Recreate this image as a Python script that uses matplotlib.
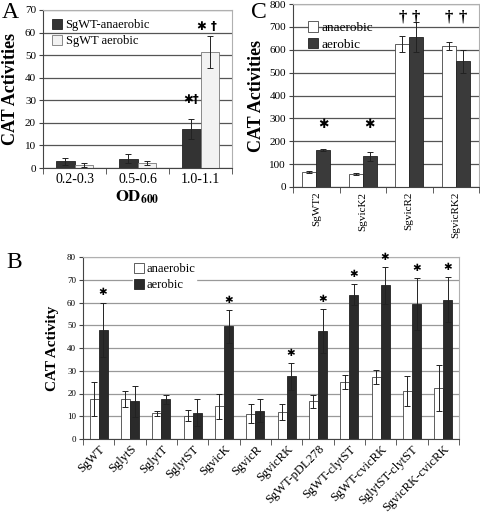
import matplotlib
matplotlib.use("Agg")
import matplotlib.pyplot as plt
import numpy as np

plt.rcParams['font.family'] = ['Liberation Serif', 'DejaVu Serif']
plt.rcParams['mathtext.fontset'] = 'stix'

# ---------------- Data ----------------
# Panel A
a_groups = ["0.2-0.3", "0.5-0.6", "1.0-1.1"]
a_anaer = [3.0, 4.2, 17.2]
a_anaer_err = [1.5, 2.0, 4.4]
a_aer = [1.3, 2.2, 51.3]
a_aer_err = [1.0, 1.0, 7.2]

# Panel C
c_groups = ["SgWT2", "SgvicK2", "SgvicR2", "SgvicRK2"]
c_anaer = [65, 57, 625, 617]
c_anaer_err = [5, 4, 37, 18]
c_aer = [162, 135, 655, 550]
c_aer_err = [6, 20, 65, 50]

# Panel B
b_groups = ["SgWT", "SglytS", "SglytT", "SglytST", "SgvicK", "SgvicR", "SgvicRK",
            "SgWT-pDL278", "SgWT-clytST", "SgWT-cvicRK", "SglytST-clytST", "SgvicRK-cvicRK"]
b_anaer = [17.5, 17.5, 11.3, 10.3, 14.3, 11.2, 12.0, 16.5, 25.0, 27.3, 21.0, 22.5]
b_anaer_err = [7.5, 3.5, 1.0, 2.5, 5.3, 4.0, 3.5, 3.0, 3.0, 3.0, 6.5, 10.0]
b_aer = [48.0, 16.5, 17.5, 11.5, 49.5, 12.5, 27.5, 47.5, 63.5, 67.5, 59.3, 61.3]
b_aer_err = [12.0, 7.0, 2.0, 6.0, 7.3, 5.0, 5.8, 9.5, 4.5, 8.0, 11.5, 9.8]
b_star = [True, False, False, False, True, False, True, True, True, True, True, True]

DARK = "#333333"
LIGHT = "#f2f2f2"
GRID = "#555555"
FRAME = "#b0b0b0"
err_kw = dict(ecolor="#222222", elinewidth=0.7, capsize=2.5, capthick=0.7)
STAR = dict(family=['DejaVu Sans'], fontweight='bold', ha='center', va='center')

fig = plt.figure(figsize=(4.8, 5.14), dpi=100)
W, H = 480.0, 514.0

def ax_at(l, r, t, b):
    return fig.add_axes([l / W, 1 - b / H, (r - l) / W, (b - t) / H])

def style(ax, gridcolor, ngroups):
    ax.set_axisbelow(True)
    ax.yaxis.grid(True, color=gridcolor, linewidth=0.9)
    for s in ["top", "right"]:
        ax.spines[s].set_color(FRAME)
    for s in ["left", "bottom"]:
        ax.spines[s].set_color("#444444")
    ax.set_xlim(-0.5, ngroups - 0.5)
    ax.set_xticks(np.arange(-0.5, ngroups, 1.0), minor=True)
    ax.tick_params(axis='x', which='major', length=0)
    ax.tick_params(axis='x', which='minor', length=4, color="#444444", direction='out')
    ax.tick_params(axis='y', length=3, color="#444444", direction='out', pad=2)

# ---------------- Panel A ----------------
axA = ax_at(43, 232, 10, 168)
x = np.arange(len(a_groups))
w = 0.29
axA.bar(x - w / 2, a_anaer, w, yerr=a_anaer_err, color=DARK, edgecolor="#222222",
        linewidth=0.6, error_kw=err_kw, label="SgWT-anaerobic")
axA.bar(x + w / 2, a_aer, w, yerr=a_aer_err, color=LIGHT, edgecolor="#777777",
        linewidth=0.6, error_kw=err_kw, label="SgWT aerobic")
axA.set_ylim(0, 70)
axA.set_yticks(range(0, 71, 10))
style(axA, GRID, 3)
axA.set_xticks(x)
axA.set_xticklabels(a_groups, fontsize=10)
axA.tick_params(axis='y', labelsize=8)
axA.set_ylabel("CAT Activities", fontsize=13, fontweight='bold', labelpad=4)
axA.set_xlabel(r"$\mathbf{OD}_{\mathbf{600}}$", fontsize=12, labelpad=2)
axA.legend(loc="upper left", frameon=False, fontsize=9, handlelength=0.8,
           handleheight=0.9, handletextpad=0.3, borderaxespad=0.3, labelspacing=0.3,
           bbox_to_anchor=(0.0, 1.0))
axA.text(x[2] - w / 2, 30.5, "✱†", fontsize=8.5, **STAR)
axA.text(x[2] + w / 2 - 0.05, 62.5, "✱ †", fontsize=8.5, **STAR)

# ---------------- Panel C ----------------
axC = ax_at(293, 479, 4, 187)
x = np.arange(len(c_groups))
w = 0.30
axC.bar(x - w / 2, c_anaer, w, yerr=c_anaer_err, color="white", edgecolor="#444444",
        linewidth=0.6, error_kw=err_kw, label="anaerobic")
axC.bar(x + w / 2, c_aer, w, yerr=c_aer_err, color="#3a3a3a", edgecolor="#222222",
        linewidth=0.6, error_kw=err_kw, label="aerobic")
axC.set_ylim(0, 800)
axC.set_yticks(range(0, 801, 100))
style(axC, GRID, 4)
axC.set_xticks(x)
axC.set_xticklabels(c_groups, fontsize=8, rotation=90)
axC.tick_params(axis='y', labelsize=8)
axC.set_ylabel("CAT Activities", fontsize=13, fontweight='bold', labelpad=3)
axC.legend(loc="upper left", frameon=False, fontsize=9.5, handlelength=0.8,
           handleheight=0.9, handletextpad=0.2, borderaxespad=0.3, labelspacing=0.3,
           bbox_to_anchor=(0.03, 0.96))
for i in range(2):
    axC.text(x[i] + w / 2, 275, "✱", fontsize=9, **STAR)
for i in range(2, 4):
    for dx in (-w / 2, w / 2):
        axC.text(x[i] + dx, 740, "†", ha='center', va='center', fontsize=12,
                 fontweight='bold')

# ---------------- Panel B ----------------
axB = ax_at(83, 459, 257, 439)
x = np.arange(len(b_groups))
w = 0.29
axB.bar(x - w / 2, b_anaer, w, yerr=b_anaer_err, color="white", edgecolor="#444444",
        linewidth=0.6, error_kw=err_kw, label="anaerobic")
axB.bar(x + w / 2, b_aer, w, yerr=b_aer_err, color="#2a2a2a", edgecolor="#222222",
        linewidth=0.6, error_kw=err_kw, label="aerobic")
axB.set_ylim(0, 80)
axB.set_yticks(range(0, 81, 10))
style(axB, "#999999", 12)
axB.set_xticks(x)
axB.set_xticklabels(b_groups, fontsize=9, rotation=45, ha='right', rotation_mode='anchor')
axB.tick_params(axis='x', which='major', pad=3)
axB.tick_params(axis='y', labelsize=6.5)
axB.set_ylabel("CAT Activity", fontsize=11, fontweight='bold', labelpad=6)
leg = axB.legend(loc="upper left", frameon=True, fontsize=9, handlelength=0.8,
                 handleheight=0.9, handletextpad=0.2, borderaxespad=0.2, labelspacing=0.3,
                 bbox_to_anchor=(0.125, 0.99), borderpad=0.1, fancybox=False)
leg.get_frame().set_edgecolor("white")
leg.get_frame().set_facecolor("white")
leg.get_frame().set_alpha(1)
for i, s in enumerate(b_star):
    if s:
        axB.text(x[i] + w / 2, b_aer[i] + b_aer_err[i] + 4.5, "✱", fontsize=7.5, **STAR)

# ---------------- Panel letters ----------------
fig.text(2 / W, 1 - 12 / H, "A", fontsize=17, va='center', ha='left')
fig.text(251 / W, 1 - 12 / H, "C", fontsize=17, va='center', ha='left')
fig.text(6 / W, 1 - 263 / H, "B", fontsize=17, va='center', ha='left')

fig.savefig("out.png", dpi=100)
